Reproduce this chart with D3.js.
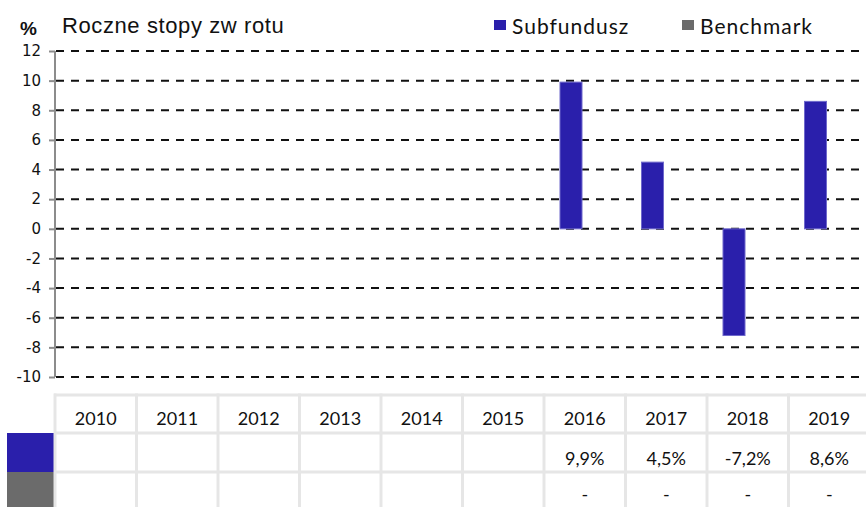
<!DOCTYPE html>
<html>
<head>
<meta charset="utf-8">
<script src="https://cdn.jsdelivr.net/npm/d3@7"></script>
<style>
    body { margin: 0; background: #fff; }
    svg { display: block; }
</style>
</head>
<body>
<div id="chart"></div>
<script>
const years = ["2010", "2011", "2012", "2013", "2014", "2015", "2016", "2017", "2018", "2019"]
const seriesNames = ["Subfundusz", "Benchmark"]
const subfundusz = [null, null, null, null, null, null, 9.9, 4.5, -7.2, 8.6]
const benchmark = [null, null, null, null, null, null, null, null, null, null]
const yTicks = [12, 10, 8, 6, 4, 2, 0, -2, -4, -6, -8, -10]
const tableSub = ["", "", "", "", "", "", "9,9%", "4,5%", "-7,2%", "8,6%"]
const tableBench = ["", "", "", "", "", "", "-", "-", "-", "-"]

const width = 866
const height = 507
const colors = {Subfundusz: "#2a1fab", Benchmark: "#6b6b6b"}
const gridColor = "#e6e6e6"

const svg = d3.select("#chart").append("svg")
    .attr("width", width)
    .attr("height", height)

const y = d3.scaleLinear()
    .domain([-10, 12])
    .range([377, 51])

const x = d3.scaleBand()
    .domain(years)
    .range([55, 870])

// inner scale for the two series in a year
const x1 = d3.scaleBand()
    .domain(seriesNames)
    .range([16, 60])

// dashed gridlines
svg.append("g")
    .selectAll("line")
    .data(yTicks)
    .enter()
    .append("line")
    .attr("x1", 56)
    .attr("x2", 861)
    .attr("y1", d => y(d))
    .attr("y2", d => y(d))
    .attr("stroke", "#111")
    .attr("stroke-width", 2)
    .attr("stroke-dasharray", "8,7")

// y axis (plain hyphen for negatives, like the original)
const yAxis = d3.axisLeft(y)
    .tickValues(yTicks)
    .tickSize(6)
    .tickPadding(8)
    .tickFormat(d => String(d))

const gy = svg.append("g")
    .attr("transform", "translate(55,0)")
    .call(yAxis)

gy.select(".domain").remove()
gy.selectAll(".tick line")
    .attr("stroke", "#8c8c8c")
    .attr("stroke-width", 2)
gy.selectAll(".tick text")
    .style("font-family", "DejaVu Sans")
    .style("font-size", "15px")
    .attr("fill", "#111")

gy.append("line")
    .attr("x1", 0)
    .attr("x2", 0)
    .attr("y1", y(12))
    .attr("y2", y(-10))
    .attr("stroke", "#8c8c8c")
    .attr("stroke-width", 2)

// bars
const rows = years.map((yr, i) => ({year: yr, Subfundusz: subfundusz[i], Benchmark: benchmark[i]}))

svg.append("g")
    .selectAll("g")
    .data(rows)
    .enter()
    .append("g")
    .attr("transform", d => "translate(" + x(d.year) + ",0)")
    .selectAll("rect")
    .data(d => seriesNames.map(k => ({key: k, value: d[k]})).filter(v => v.value !== null))
    .enter()
    .append("rect")
    .attr("x", d => x1(d.key))
    .attr("width", x1.bandwidth())
    .attr("y", d => y(Math.max(0, d.value)))
    .attr("height", d => Math.abs(y(d.value) - y(0)))
    .attr("fill", d => colors[d.key])
    .attr("stroke", "#6f69cc")
    .attr("stroke-width", 1)

// title
svg.append("text")
    .attr("x", 20)
    .attr("y", 35)
    .style("font-family", "Liberation Sans")
    .style("font-size", "19px")
    .style("font-weight", "bold")
    .attr("fill", "#111")
    .text("%")

svg.append("text")
    .attr("x", 62)
    .attr("y", 33)
    .style("font-family", "Liberation Sans")
    .style("font-size", "22px")
    .style("letter-spacing", "0.6px")
    .attr("fill", "#111")
    .text("Roczne stopy zw rotu")

// legend
const legendX = [494, 682]
const legend = svg.append("g")
    .selectAll("g")
    .data(seriesNames)
    .enter()
    .append("g")
    .attr("transform", (d, i) => "translate(" + legendX[i] + ",0)")

legend.append("rect")
    .attr("x", 0)
    .attr("y", 20)
    .attr("width", 12)
    .attr("height", 10)
    .attr("fill", d => colors[d])

legend.append("text")
    .attr("x", 18)
    .attr("y", 34)
    .style("font-family", "Lato")
    .style("font-size", "21px")
    .style("letter-spacing", "1px")
    .attr("fill", "#111")
    .text(d => d)

// data table under the chart
const rowTop = [395, 433, 472]
const rowBottom = [433, 472, 512]
const table = svg.append("g")

table.selectAll("rect.swatch")
    .data(seriesNames)
    .enter()
    .append("rect")
    .attr("class", "swatch")
    .attr("x", 7)
    .attr("y", (d, i) => rowTop[i + 1])
    .attr("width", 47)
    .attr("height", (d, i) => rowBottom[i + 1] - rowTop[i + 1])
    .attr("fill", d => colors[d])

// horizontal borders
table.selectAll("line.h")
    .data(rowTop)
    .enter()
    .append("line")
    .attr("class", "h")
    .attr("x1", 54)
    .attr("x2", width)
    .attr("y1", d => d)
    .attr("y2", d => d)
    .attr("stroke", gridColor)
    .attr("stroke-width", 3)

// vertical borders
table.selectAll("line.v")
    .data(years)
    .enter()
    .append("line")
    .attr("class", "v")
    .attr("x1", d => x(d))
    .attr("x2", d => x(d))
    .attr("y1", rowTop[0] - 1.5)
    .attr("y2", height)
    .attr("stroke", gridColor)
    .attr("stroke-width", 3)

const cellText = (values, cy) => {
    table.append("g")
        .selectAll("text")
        .data(values)
        .enter()
        .append("text")
        .attr("x", (d, i) => x(years[i]) + x.bandwidth() / 2)
        .attr("y", cy)
        .attr("dy", "0.35em")
        .style("font-family", "Lato")
        .style("font-size", "18px")
        .style("text-anchor", "middle")
        .attr("fill", "#111")
        .text(d => d)
}

cellText(years, 419)
cellText(tableSub, 459)
cellText(tableBench, 495)
</script>
</body>
</html>
